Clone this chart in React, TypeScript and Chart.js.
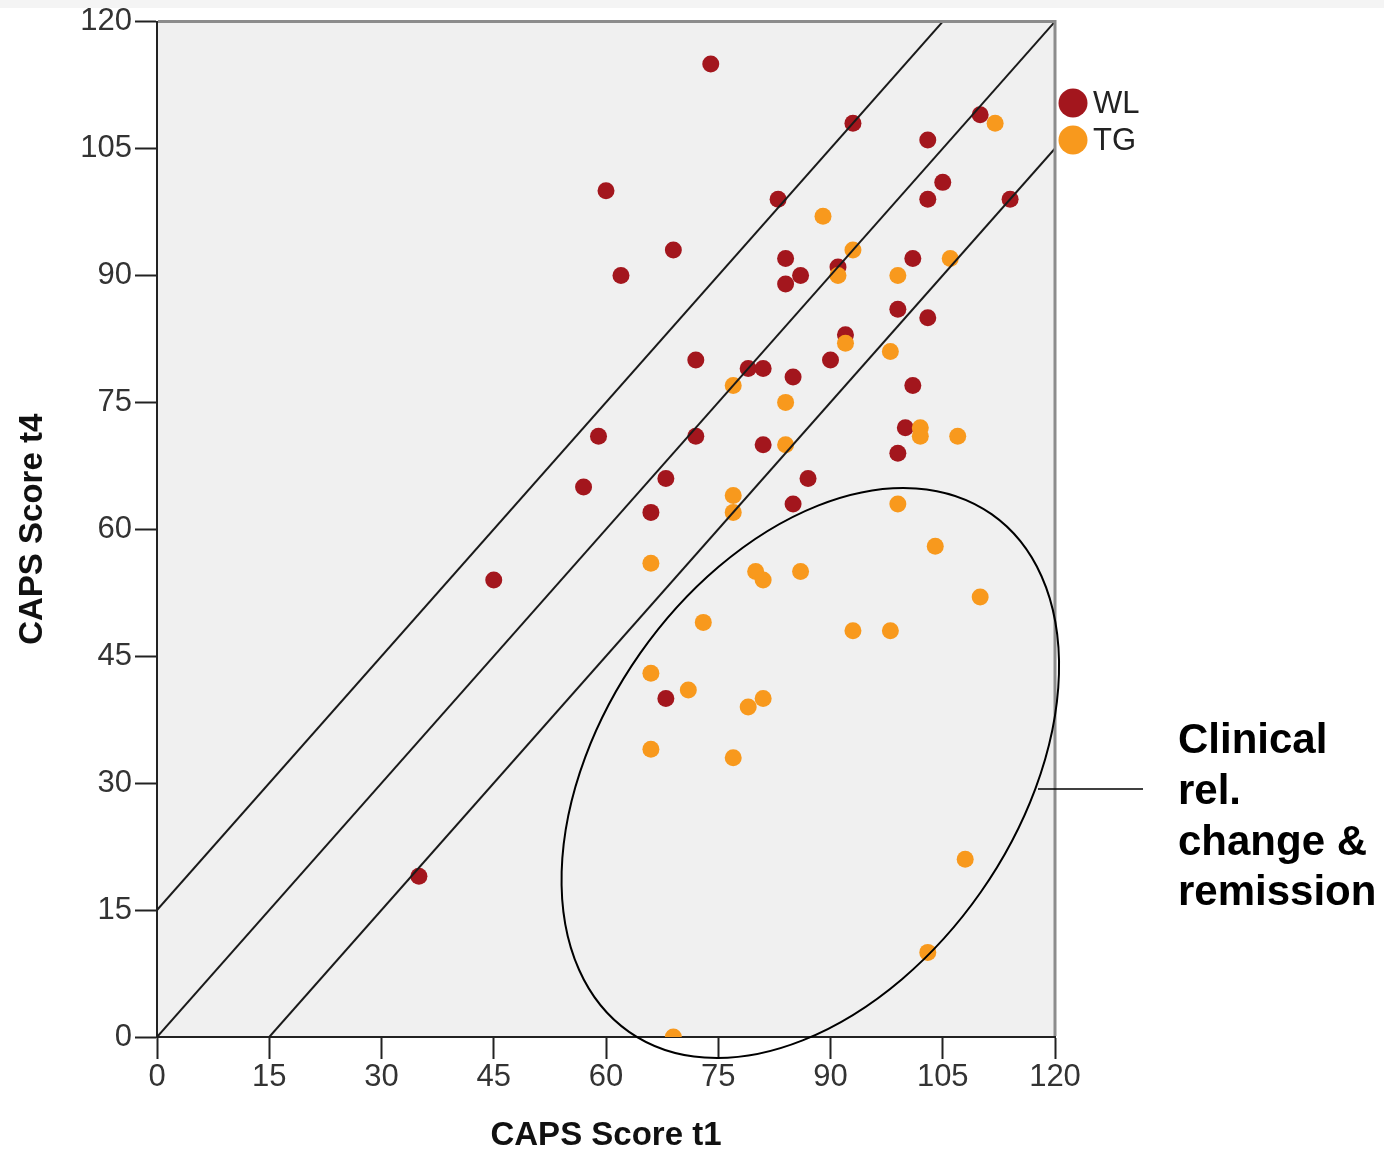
import React, { useEffect, useRef } from 'react';
import { Chart, registerables } from 'chart.js';

Chart.register(...registerables);

// ---- data ----
const wlX = [74, 93, 110, 103, 105, 103, 114, 60, 83, 69, 62, 84, 86, 84, 91, 101, 99, 103, 92, 90, 72, 79, 81, 85, 101, 59, 72, 81, 100, 99, 68, 87, 57, 66, 85, 45, 68, 35];
const wlY = [115, 108, 109, 106, 101, 99, 99, 100, 99, 93, 90, 92, 90, 89, 91, 92, 86, 85, 83, 80, 80, 79, 79, 78, 77, 71, 71, 70, 72, 69, 66, 66, 65, 62, 63, 54, 40, 19];
const tgX = [112, 89, 93, 106, 91, 99, 92, 98, 77, 84, 84, 102, 102, 107, 77, 77, 99, 66, 104, 80, 81, 86, 110, 73, 93, 98, 66, 71, 79, 81, 66, 77, 108, 103, 69];
const tgY = [108, 97, 93, 92, 90, 90, 82, 81, 77, 75, 70, 72, 71, 71, 64, 62, 63, 56, 58, 55, 54, 55, 52, 49, 48, 48, 43, 41, 39, 40, 34, 33, 21, 10, 0];
const seriesNames = ['WL', 'TG'];
const axisMin = 0;
const axisMax = 120;
const tickStep = 15;
const refLineOffsets = [15, 0, -15];
const noteLines = ['Clinical', 'rel.', 'change &', 'remission'];
const xTitle = 'CAPS Score t1';
const yTitle = 'CAPS Score t4';

// ---- styles ----
const RED = '#a3161d';
const ORANGE = '#f8991d';
const FONT = "'Liberation Sans', Arial, sans-serif";

const toPoints = (xs: number[], ys: number[]) => xs.map((x, i) => ({ x, y: ys[i] }));

const refLine = (off: number) => {
  const x0 = Math.max(axisMin, axisMin - off);
  const x1 = Math.min(axisMax, axisMax - off);
  return [{ x: x0, y: x0 + off }, { x: x1, y: x1 + off }];
};

const decorPlugin = {
  id: 'decor',
  beforeDraw(chart: any) {
    const { ctx, chartArea: a } = chart;
    ctx.save();
    ctx.fillStyle = '#f4f4f4';
    ctx.fillRect(0, 0, chart.width, 8);
    ctx.fillStyle = '#f0f0f0';
    ctx.fillRect(a.left, a.top, a.right - a.left, a.bottom - a.top);
    ctx.restore();
  },
  afterDraw(chart: any) {
    const { ctx, chartArea: a, scales } = chart;
    ctx.save();
    // top/right frame
    ctx.strokeStyle = '#8c8c8c';
    ctx.lineWidth = 3;
    ctx.beginPath();
    ctx.moveTo(a.left + 1, a.top);
    ctx.lineTo(a.right, a.top);
    ctx.lineTo(a.right, a.bottom - 1);
    ctx.stroke();

    // ellipse
    const cx = scales.x.getPixelForValue(87.3);
    const cy = scales.y.getPixelForValue(31.2);
    ctx.strokeStyle = '#000';
    ctx.lineWidth = 2;
    ctx.beginPath();
    ctx.ellipse(cx, cy, 316, 208, (-55 * Math.PI) / 180, 0, Math.PI * 2);
    ctx.stroke();

    // connector
    ctx.lineWidth = 1.5;
    ctx.beginPath();
    ctx.moveTo(1038, 789);
    ctx.lineTo(1143, 789);
    ctx.stroke();

    // note text
    ctx.fillStyle = '#000';
    ctx.font = `bold 42px ${FONT}`;
    ctx.textBaseline = 'alphabetic';
    ctx.textAlign = 'left';
    const baselines = [753, 804, 855, 905];
    noteLines.forEach((t, i) => ctx.fillText(t, 1178, baselines[i]));

    // legend
    const colors = [RED, ORANGE];
    const ly = [103, 140];
    ctx.font = `31px ${FONT}`;
    ctx.textBaseline = 'middle';
    seriesNames.forEach((n, i) => {
      ctx.fillStyle = colors[i];
      ctx.beginPath();
      ctx.arc(1073, ly[i], 14.5, 0, Math.PI * 2);
      ctx.fill();
      ctx.fillStyle = '#222';
      ctx.fillText(n, 1093, ly[i] + 1);
    });
    ctx.restore();
  },
};

export default function App() {
  const ref = useRef<HTMLCanvasElement | null>(null);
  useEffect(() => {
    if (!ref.current) return;
    const scaleOpts = (title: string, isY: boolean) => ({
      type: 'linear' as const,
      min: axisMin,
      max: axisMax,
      ticks: {
        stepSize: tickStep,
        color: '#333',
        font: { family: FONT, size: 31 },
        padding: isY ? 3 : 0,
      },
      grid: {
        drawOnChartArea: false,
        drawTicks: true,
        tickLength: 22,
        tickWidth: 2,
        tickColor: '#222',
      },
      border: { display: true, color: '#222', width: 2 },
      title: {
        display: true,
        text: title,
        color: '#111',
        font: { family: FONT, size: 33, weight: 'bold' as const, lineHeight: isY ? 1.2 : 1.1 },
        padding: isY ? { top: 13, bottom: 0 } : { top: 0, bottom: 0 },
      },
      afterFit: (s: any) => {
        if (isY) s.width = 157;
        else s.height = 117;
      },
    });

    const chart = new Chart(ref.current, {
      type: 'scatter',
      data: {
        datasets: [
          ...refLineOffsets.map((o) => ({
            label: 'ref' + o,
            data: refLine(o),
            showLine: true,
            borderColor: '#1a1a1a',
            borderWidth: 2,
            pointRadius: 0,
            order: 0,
          })),
          {
            label: seriesNames[0],
            data: toPoints(wlX, wlY),
            backgroundColor: RED,
            borderWidth: 0,
            pointRadius: 8.5,
            order: 2,
          },
          {
            label: seriesNames[1],
            data: toPoints(tgX, tgY),
            backgroundColor: ORANGE,
            borderWidth: 0,
            pointRadius: 8.5,
            order: 1,
          },
        ],
      },
      options: {
        responsive: false,
        animation: false,
        events: [],
        layout: { padding: { top: 19, right: 329, bottom: 0, left: 0 } },
        plugins: { legend: { display: false }, tooltip: { enabled: false } },
        scales: {
          x: scaleOpts(xTitle, false),
          y: scaleOpts(yTitle, true),
        },
      },
      plugins: [decorPlugin],
    } as any);
    return () => chart.destroy();
  }, []);

  return (
    <div style={{ position: 'absolute', left: 0, top: 0, width: 1384, height: 1154, background: '#fff' }}>
      <canvas ref={ref} width={1384} height={1154} />
    </div>
  );
}
